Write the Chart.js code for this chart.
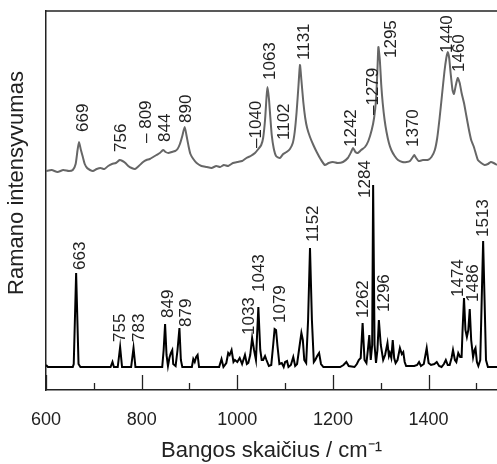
<!DOCTYPE html>
<html>
<head>
<meta charset="utf-8">
<script src="https://cdn.jsdelivr.net/npm/chart.js@4.4.1/dist/chart.umd.min.js"></script>
<style>
  html, body { margin: 0; padding: 0; background: #fff; overflow: hidden; }
  #wrap { width: 497px; height: 464px; position: relative; }
</style>
</head>
<body>
<div id="wrap"><canvas id="ramanChart"></canvas></div>
<script>
// Measured spectrum (gray, upper trace)
const measuredX = [600, 612, 624, 636, 648, 656, 662, 666, 669, 673, 677, 681, 686, 692, 698, 706, 714, 722, 730, 738,
  746, 754, 760, 766, 772, 779, 786, 794, 803, 810, 817, 824, 831, 838, 845, 850, 856, 863, 870, 875,
  880, 885, 890, 894, 898, 902, 908, 915, 925, 936, 946, 956, 964, 972, 981, 991, 1000, 1010, 1019, 1028,
  1037, 1044, 1050, 1054, 1058, 1061, 1063, 1066, 1069, 1072, 1076, 1081, 1089, 1096, 1103, 1110, 1116, 1120, 1124, 1128,
  1131, 1134, 1138, 1142, 1146, 1152, 1159, 1166, 1174, 1183, 1191, 1200, 1210, 1221, 1231, 1238, 1242, 1247, 1252, 1259,
  1267, 1274, 1281, 1286, 1290, 1293, 1295, 1298, 1301, 1304, 1308, 1312, 1317, 1322, 1329, 1336, 1345, 1354, 1361, 1367,
  1370, 1374, 1379, 1388, 1398, 1406, 1413, 1418, 1423, 1428, 1433, 1437, 1440, 1443, 1446, 1450, 1453, 1457, 1461, 1465,
  1469, 1474, 1479, 1484, 1489, 1494, 1499, 1503, 1510, 1517, 1524, 1530, 1536, 1543];
const measuredY = [219, 220, 218, 220, 219, 220, 226, 240, 248, 240, 233, 226, 222, 220, 219, 221, 222, 221, 224, 226,
  227, 230, 229, 227, 224, 222, 221, 224, 228, 230, 231, 233, 235, 237, 240, 238, 237, 238, 239, 241,
  246, 254, 263, 254, 244, 236, 231, 227, 224, 223, 222, 224, 223, 225, 224, 227, 228, 229, 232, 234,
  237, 241, 245, 252, 270, 292, 303, 292, 273, 255, 242, 234, 232, 236, 238, 241, 247, 258, 278, 305,
  325, 310, 288, 272, 262, 253, 245, 238, 231, 225, 227, 228, 227, 228, 232, 238, 242, 238, 237, 240,
  243, 249, 260, 272, 290, 320, 343, 330, 305, 287, 270, 258, 247, 240, 234, 230, 228, 228, 229, 233,
  235, 232, 229, 230, 230, 233, 240, 252, 272, 295, 318, 332, 338, 332, 317, 300, 296, 305, 312, 307,
  297, 287, 274, 261, 250, 244, 236, 230, 227, 225, 226, 228, 227, 225];

// Calculated spectrum (black, lower trace)
const calcX = [600, 604, 656, 658, 663, 668, 672, 735, 739, 742, 750, 755, 759, 778, 783, 787, 843, 846, 849, 852,
  855, 858, 861, 864, 866, 871, 875, 879, 882, 885, 905, 908, 911, 914, 917, 920, 962, 967, 971, 977,
  981, 984, 988, 992, 995, 1000, 1005, 1010, 1016, 1020, 1023, 1027, 1031, 1035, 1039, 1044, 1048, 1051, 1054, 1058,
  1061, 1066, 1071, 1075, 1078, 1081, 1084, 1088, 1093, 1097, 1100, 1104, 1107, 1112, 1117, 1121, 1125, 1129, 1134, 1137,
  1140, 1144, 1148, 1152, 1156, 1160, 1163, 1167, 1171, 1175, 1180, 1215, 1222, 1228, 1233, 1245, 1250, 1254, 1258, 1262,
  1266, 1270, 1273, 1276, 1279, 1282, 1284, 1287, 1290, 1293, 1296, 1300, 1305, 1309, 1314, 1317, 1319, 1322, 1325, 1328,
  1331, 1335, 1340, 1344, 1347, 1350, 1353, 1370, 1376, 1380, 1384, 1390, 1396, 1400, 1405, 1412, 1417, 1422, 1427, 1432,
  1436, 1440, 1444, 1448, 1451, 1455, 1458, 1462, 1466, 1469, 1471, 1474, 1477, 1480, 1483, 1486, 1489, 1493, 1496, 1498,
  1501, 1504, 1508, 1511, 1514, 1517, 1520, 1524, 1543];
const calcY = [25, 23, 23, 26, 117, 26, 23, 23, 28, 23, 23, 43, 23, 23, 42, 23, 23, 40, 66, 35,
  24, 32, 37, 40, 26, 24, 40, 62, 30, 23, 23, 31, 28, 33, 35, 23, 23, 31, 23, 27,
  37, 35, 40, 28, 30, 28, 32, 26, 35, 26, 27, 35, 52, 40, 30, 83, 40, 30, 30, 34,
  30, 24, 25, 45, 61, 60, 44, 26, 27, 23, 28, 29, 23, 25, 33, 24, 26, 40, 57, 50,
  30, 27, 70, 142, 70, 28, 30, 34, 37, 26, 23, 23, 25, 28, 24, 23, 26, 30, 32, 67,
  30, 27, 40, 55, 30, 45, 205, 45, 27, 40, 70, 45, 30, 35, 47, 34, 37, 32, 50, 32,
  27, 30, 42, 36, 38, 28, 24, 24, 25, 28, 24, 26, 42, 27, 25, 26, 28, 24, 23, 26,
  30, 25, 25, 32, 40, 30, 28, 37, 33, 33, 60, 92, 60, 53, 60, 81, 50, 33, 40, 42,
  28, 24, 30, 90, 149, 90, 30, 23, 23];

// Peak labels: text, wavenumber of label centre, intensity at label start
const measuredLabels = ['669', '756', '\u2013 809', '844', '890', '\u20131040', '1063', '1102', '1131', '1242', '\u20131279', '1295', '1370', '1440', '1460'];
const measuredLabelX = [678, 758, 810, 849, 894, 1039, 1070, 1099, 1141, 1239, 1284, 1322, 1368, 1440, 1465];
const measuredLabelY = [258, 238, 247, 248, 267, 242, 310, 250, 330, 243, 275, 332, 243, 337, 318];

const calcLabels = ['663', '755', '783', '849', '879', '1033', '1043', '1079', '1152', '1262', '1284', '1296', '1474', '1486', '1513'];
const calcLabelX = [671, 755, 795, 856, 894, 1025, 1047, 1089, 1159, 1263, 1267, 1308, 1462, 1493, 1514];
const calcLabelY = [120, 48, 48, 72, 63, 55, 98, 67, 148, 72, 192, 78, 93, 88, 153];

// Axis ticks
const majorTicks = [600, 800, 1000, 1200, 1400];
const minorTicks = [700, 900, 1100, 1300, 1500];

const fontFamily = '"Liberation Sans", Arial, sans-serif';
const yTitle = 'Ramano intensyvumas';

function toPoints(xs, ys) {
    return xs.map((x, i) => ({ x: x, y: ys[i] }));
}

// Inward ticks, top frame line, y title and rotated peak labels
const overlayPlugin = {
    id: 'overlay',
    afterDraw(chart) {
        const { ctx, chartArea } = chart;
        const xScale = chart.scales.x;
        const yScale = chart.scales.y;
        ctx.save();
        ctx.strokeStyle = '#222';
        ctx.lineWidth = 1.5;
        ctx.beginPath();
        ctx.moveTo(chartArea.left, chartArea.top);
        ctx.lineTo(chartArea.right, chartArea.top);
        ctx.stroke();

        ctx.lineWidth = 1.3;
        const drawTick = (v, len) => {
            const px = Math.round(xScale.getPixelForValue(v)) + 0.5;
            ctx.beginPath();
            ctx.moveTo(px, chartArea.bottom);
            ctx.lineTo(px, chartArea.bottom - len);
            ctx.stroke();
        };
        majorTicks.forEach(v => drawTick(v, 15));
        minorTicks.forEach(v => drawTick(v, 7));

        ctx.fillStyle = '#222';
        // y axis title, sits a bit above the plot centre
        ctx.font = '22px ' + fontFamily;
        ctx.textAlign = 'center';
        ctx.textBaseline = 'middle';
        ctx.save();
        ctx.translate(17, chartArea.top + 172);
        ctx.rotate(-Math.PI / 2);
        ctx.fillText(yTitle, 0, 0);
        ctx.restore();

        ctx.font = '17px ' + fontFamily;
        ctx.textAlign = 'left';
        const drawLabels = (texts, xs, ys) => {
            texts.forEach((t, i) => {
                ctx.save();
                ctx.translate(xScale.getPixelForValue(xs[i]), yScale.getPixelForValue(ys[i]));
                ctx.rotate(-Math.PI / 2);
                ctx.fillText(t, 0, 0);
                ctx.restore();
            });
        };
        drawLabels(measuredLabels, measuredLabelX, measuredLabelY);
        drawLabels(calcLabels, calcLabelX, calcLabelY);
        ctx.restore();
    }
};

const ctx = document.getElementById('ramanChart').getContext('2d');
const ramanChart = new Chart(ctx, {
    type: 'line',
    data: {
        datasets: [{
            label: 'Eksperimentas',
            data: toPoints(measuredX, measuredY),
            borderColor: '#666',
            borderWidth: 2,
            pointRadius: 0,
            tension: 0.2
        }, {
            label: 'Skaičiavimas',
            data: toPoints(calcX, calcY),
            borderColor: '#000',
            borderWidth: 2,
            pointRadius: 0,
            tension: 0
        }]
    },
    options: {
        responsive: true,
        maintainAspectRatio: false,
        animation: false,
        devicePixelRatio: 1,
        layout: { padding: { top: 11, right: 0, left: 0, bottom: 0 } },
        plugins: {
            legend: { display: false },
            tooltip: { enabled: false }
        },
        scales: {
            x: {
                type: 'linear',
                min: 600,
                max: 1543,
                afterBuildTicks: axis => { axis.ticks = majorTicks.map(v => ({ value: v })); },
                afterFit: axis => { axis.height = 74; },
                grid: { display: false, drawTicks: false },
                border: { display: true, color: '#222', width: 1.5 },
                ticks: {
                    padding: 19,
                    color: '#222',
                    maxRotation: 0,
                    font: { family: fontFamily, size: 18 },
                    callback: v => String(v)
                },
                title: {
                    display: true,
                    text: 'Bangos skaičius / cm\u207B\u00B9',
                    color: '#222',
                    padding: { top: 0, bottom: 0 },
                    font: { family: fontFamily, size: 22 }
                }
            },
            y: {
                min: 0,
                max: 379,
                afterFit: axis => { axis.width = 46; },
                grid: { display: false, drawTicks: false },
                border: { display: true, color: '#222', width: 1.5 },
                ticks: { display: false },
                title: { display: false }
            }
        }
    },
    plugins: [overlayPlugin]
});
</script>
</body>
</html>
